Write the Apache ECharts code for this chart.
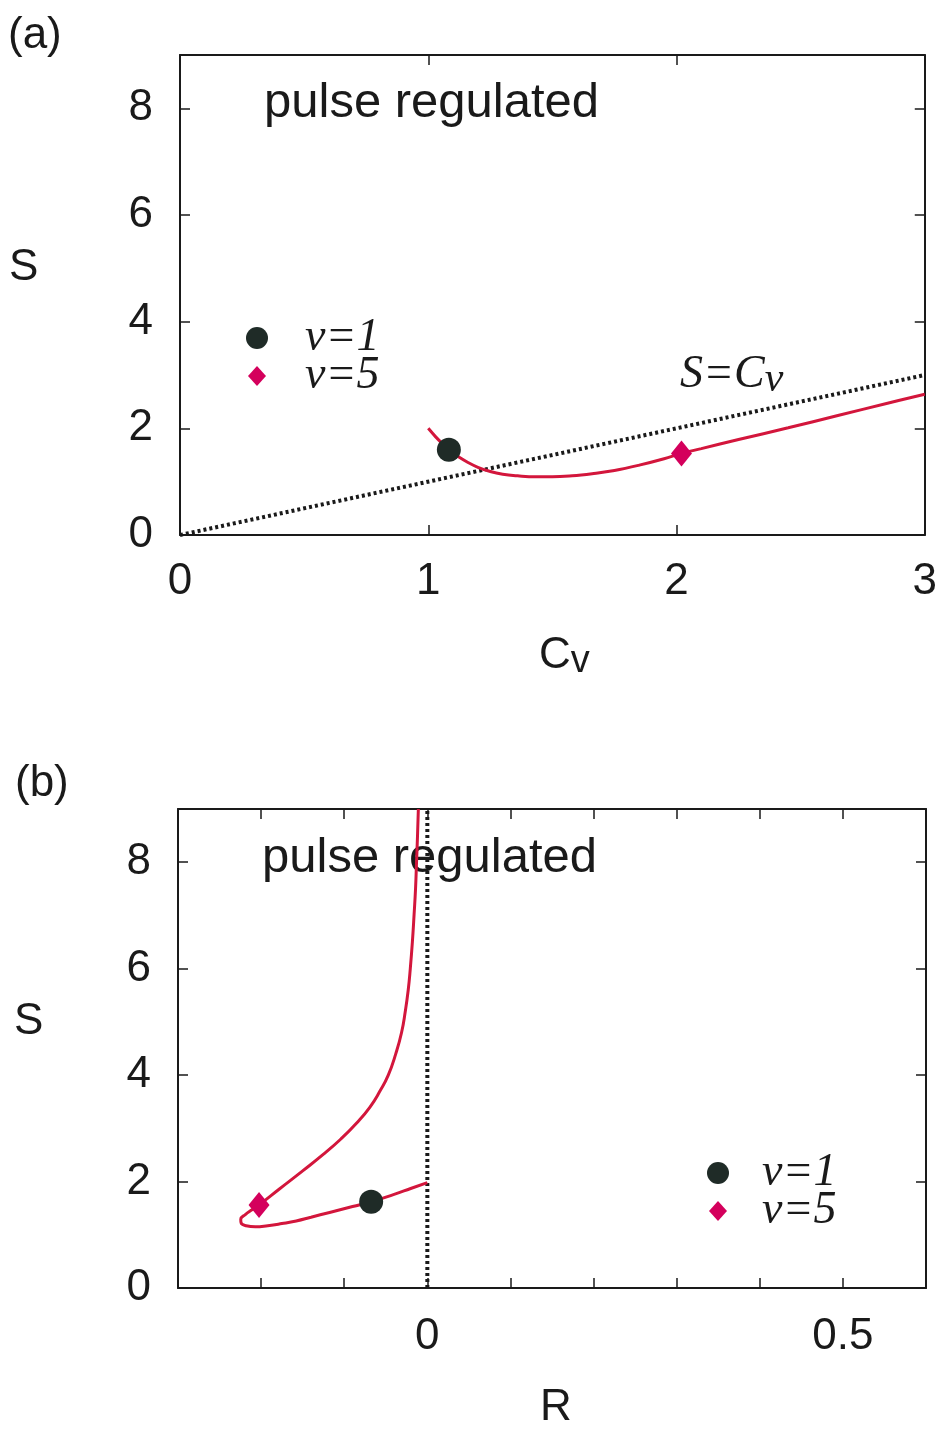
<!DOCTYPE html>
<html><head><meta charset="utf-8">
<script src="https://cdn.jsdelivr.net/npm/echarts@6/dist/echarts.min.js"></script>
<style>html,body{margin:0;padding:0;background:#fff}#c{width:940px;height:1434px}</style>
</head><body><div id="c"></div>
<script>
// ---- data ----
const cvRange = [0, 3];          // panel (a) x range
const sRange = [0, 9];           // S range (both panels)
const rRange = [-0.3, 0.6];      // panel (b) x range
const rTickLabels = [0, 0.5];    // labelled R ticks
const legendNames = ['ν=1', 'ν=5'];

// panel (a): S vs Cv curve
const curveA = [[1.00,2.00],[1.03,1.84],[1.06,1.70],[1.09,1.57],[1.12,1.47],[1.16,1.36],[1.20,1.27],[1.25,1.19],[1.30,1.14],[1.36,1.11],[1.43,1.09],[1.50,1.09],[1.58,1.11],[1.66,1.15],[1.75,1.21],[1.85,1.31],[1.95,1.43],[2.02,1.53],[2.10,1.62],[2.25,1.79],[2.45,2.01],[2.65,2.24],[2.85,2.47],[3.00,2.64]];
const diagonalA = [[0,0],[3,3]];           // S = Cv
const nu1A = [[1.083,1.60]];
const nu5A = [[2.02,1.53]];

// panel (b): S vs R curve (lower branch -> loop -> upper branch)
const curveB = [[0.000,1.98],[-0.020,1.87],[-0.040,1.76],[-0.0676,1.62],[-0.090,1.53],[-0.1176,1.42],[-0.140,1.33],[-0.1577,1.26],[-0.175,1.21],[-0.192,1.17],[-0.207,1.15],[-0.218,1.17],[-0.2240,1.22],[-0.2245,1.29],[-0.219,1.38],[-0.211,1.47],[-0.2025,1.56],[-0.178,1.86],[-0.150,2.20],[-0.126,2.50],[-0.104,2.80],[-0.085,3.10],[-0.069,3.40],[-0.057,3.70],[-0.047,4.00],[-0.038,4.40],[-0.031,4.80],[-0.0265,5.20],[-0.023,5.60],[-0.0205,6.00],[-0.018,6.50],[-0.016,7.00],[-0.0142,7.50],[-0.013,8.00],[-0.0118,8.50],[-0.0108,9.00]];
const zeroLineB = [[0,0],[0,9]];
const nu1B = [[-0.0676,1.62]];
const nu5B = [[-0.2025,1.56]];

// ---- style ----
const INK = '#1a1a1a';
const RED = '#d3163c';
const DARK = '#1f2b27';
const MAG = '#d4005c';
const SANS = 'Liberation Sans, Arial, sans-serif';
const SERIF = 'Liberation Serif, Times New Roman, serif';

const chart = echarts.init(document.getElementById('c'), null, {renderer: 'canvas'});

function axisBase(extra) {
  return Object.assign({
    type: 'value',
    axisLine: {show: true, onZero: false, lineStyle: {color: INK, width: 2}},
    axisTick: {show: true, inside: true, length: 10, lineStyle: {color: INK, width: 1.5}},
    splitLine: {show: false},
    axisLabel: {show: false}
  }, extra);
}
const labelStyle = {show: true, color: INK, fontFamily: SANS, fontSize: 44};
const legendText = {fontFamily: SERIF, fontStyle: 'italic', fontSize: 46, color: INK};

const option = {
  animation: false,
  backgroundColor: '#fff',
  grid: [
    {left: 180, top: 55, width: 748, height: 480},
    {left: 178, top: 809, width: 748, height: 479}
  ],
  xAxis: [
    axisBase({gridIndex: 0, position: 'bottom', min: cvRange[0], max: cvRange[1], interval: 1,
      axisLabel: Object.assign({}, labelStyle, {margin: 25})}),
    axisBase({gridIndex: 0, position: 'top', min: cvRange[0], max: cvRange[1], interval: 1}),
    axisBase({gridIndex: 1, position: 'bottom', min: rRange[0], max: rRange[1], interval: 0.1,
      axisLabel: Object.assign({}, labelStyle, {margin: 27,
        formatter: v => rTickLabels.some(t => Math.abs(t - v) < 1e-9) ? String(Math.round(v * 10) / 10) : ''})}),
    axisBase({gridIndex: 1, position: 'top', min: rRange[0], max: rRange[1], interval: 0.1})
  ],
  yAxis: [
    axisBase({gridIndex: 0, position: 'left', min: sRange[0], max: sRange[1], interval: 2,
      axisLabel: Object.assign({}, labelStyle, {margin: 27, formatter: v => v === 9 ? '' : String(v)})}),
    axisBase({gridIndex: 0, position: 'right', min: sRange[0], max: sRange[1], interval: 2}),
    axisBase({gridIndex: 1, position: 'left', min: sRange[0], max: sRange[1], interval: 2,
      axisLabel: Object.assign({}, labelStyle, {margin: 27, formatter: v => v === 9 ? '' : String(v)})}),
    axisBase({gridIndex: 1, position: 'right', min: sRange[0], max: sRange[1], interval: 2})
  ],
  legend: [
    {data: [{name: legendNames[0], icon: 'circle'}], left: 246, top: 315, padding: 0, itemWidth: 22, itemHeight: 22,
      textStyle: Object.assign({padding: [0, 0, 0, 32]}, legendText)},
    {data: [{name: legendNames[1], icon: 'diamond'}], left: 248, top: 353, padding: 0, itemWidth: 18, itemHeight: 20,
      textStyle: Object.assign({padding: [0, 0, 0, 34]}, legendText)},
    {data: [{name: legendNames[0], icon: 'circle'}], left: 707, top: 1150, padding: 0, itemWidth: 22, itemHeight: 22,
      textStyle: Object.assign({padding: [0, 0, 0, 28]}, legendText)},
    {data: [{name: legendNames[1], icon: 'diamond'}], left: 709, top: 1188, padding: 0, itemWidth: 18, itemHeight: 20,
      textStyle: Object.assign({padding: [0, 0, 0, 30]}, legendText)}
  ],
  series: [
    {type: 'line', name: 'S=Cv', xAxisIndex: 0, yAxisIndex: 0, data: diagonalA, symbol: 'none', silent: true,
      lineStyle: {color: INK, width: 4, type: [3, 3]}},
    {type: 'line', name: 'curveA', xAxisIndex: 0, yAxisIndex: 0, data: curveA, symbol: 'none', smooth: 0.4,
      lineStyle: {color: RED, width: 3}},
    {type: 'scatter', name: legendNames[0], xAxisIndex: 0, yAxisIndex: 0, data: nu1A, symbol: 'circle', symbolSize: 24,
      itemStyle: {color: DARK, opacity: 1}, z: 5},
    {type: 'scatter', name: legendNames[1], xAxisIndex: 0, yAxisIndex: 0, data: nu5A, symbol: 'diamond', symbolSize: [21, 26],
      itemStyle: {color: MAG, opacity: 1}, z: 5},

    {type: 'line', name: 'R=0', xAxisIndex: 2, yAxisIndex: 2, data: zeroLineB, symbol: 'none', silent: true,
      lineStyle: {color: INK, width: 4, type: [3, 3]}},
    {type: 'line', name: 'curveB', xAxisIndex: 2, yAxisIndex: 2, data: curveB, symbol: 'none', smooth: 0.5,
      lineStyle: {color: RED, width: 3}},
    {type: 'scatter', name: legendNames[0], xAxisIndex: 2, yAxisIndex: 2, data: nu1B, symbol: 'circle', symbolSize: 24,
      itemStyle: {color: DARK, opacity: 1}, z: 5},
    {type: 'scatter', name: legendNames[1], xAxisIndex: 2, yAxisIndex: 2, data: nu5B, symbol: 'diamond', symbolSize: [21, 26],
      itemStyle: {color: MAG, opacity: 1}, z: 5}
  ],
  graphic: [
    {type: 'text', left: 8, top: 14, style: {text: '(a)', font: '44px ' + SANS, fill: INK}},
    {type: 'text', left: 15, top: 762, style: {text: '(b)', font: '44px ' + SANS, fill: INK}},
    {type: 'text', left: 264, top: 79, style: {text: 'pulse regulated', font: '49px ' + SANS, fill: INK}},
    {type: 'text', left: 262, top: 834, z: 1, style: {text: 'pulse regulated', font: '49px ' + SANS, fill: INK}},
    {type: 'text', left: 9, top: 246, style: {text: 'S', font: '44px ' + SANS, fill: INK}},
    {type: 'text', left: 14, top: 1000, style: {text: 'S', font: '44px ' + SANS, fill: INK}},
    {type: 'text', left: 539, top: 634, style: {
      text: 'C{s|v}', font: '44px ' + SANS, fill: INK,
      rich: {s: {fontFamily: SANS, fontSize: 38, fill: INK, padding: [12, 0, 0, 0]}}}},
    {type: 'text', left: 540, top: 1386, style: {text: 'R', font: '44px ' + SANS, fill: INK}},
    {type: 'text', left: 680, top: 352, style: {
      text: 'S=C{s|ν}', font: 'italic 46px ' + SERIF, fill: INK,
      rich: {s: {fontFamily: SERIF, fontStyle: 'italic', fontSize: 42, fill: INK, padding: [10, 0, 0, 0]}}}}
  ]
};
chart.setOption(option);
</script>
</body></html>
